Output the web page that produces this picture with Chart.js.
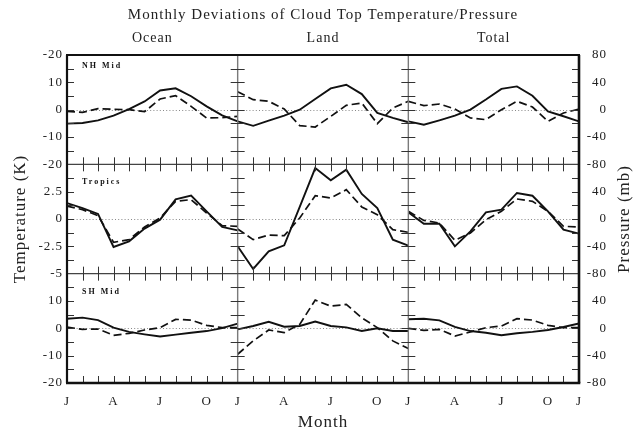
<!DOCTYPE html>
<html>
<head>
<meta charset="utf-8">
<script src="https://cdn.jsdelivr.net/npm/chart.js@4.4.1/dist/chart.umd.min.js"></script>
<style>
  html, body { margin: 0; padding: 0; background: #fff; }
  canvas { display: block; }
</style>
</head>
<body>
<canvas id="c" width="639" height="431"></canvas>
<script>
// Month positions along each panel and the labelled ones
const months = [0, 1, 2, 3, 4, 5, 6, 7, 8, 9, 10, 11];
const monthTickValues = [0, 3, 6, 9, 11];
const monthTickLabels = ['J', 'A', 'J', 'O', 'J'];

const columns = ['Ocean', 'Land', 'Total'];
const regions = ['NH Mid', 'Tropics', 'SH Mid'];

// Cloud top temperature deviations (K) - solid lines
const nhOceanTemp = [-5.1, -4.9, -3.9, -2.2, 0.2, 3.0, 7.0, 7.8, 4.9, 1.2, -2.1, -4.3];
const nhLandTemp  = [-4.3, -5.9, -4.0, -2.2, 0.0, 3.9, 7.8, 9.1, 5.7, -1.2, -3.0, -4.6];
const nhTotalTemp = [-4.3, -5.5, -3.9, -2.2, 0.0, 3.7, 7.6, 8.5, 5.1, -0.6, -2.4, -4.3];
const trOceanTemp = [1.46, 1.0, 0.46, -2.56, -2.04, -0.88, -0.06, 1.8, 2.15, 0.7, -0.73, -1.04];
const trLandTemp  = [-2.5, -4.57, -2.96, -2.41, 1.1, 4.66, 3.54, 4.51, 2.29, 1.0, -1.89, -2.44];
const trTotalTemp = [0.61, -0.43, -0.43, -2.5, -1.13, 0.61, 0.85, 2.38, 2.13, 0.7, -0.98, -1.34];
const shOceanTemp = [3.5, 3.9, 3.0, 0.24, -1.3, -2.2, -3.0, -2.3, -1.6, -1.0, 0.1, 1.7];
const shLandTemp  = [-0.36, 0.85, 2.4, 0.6, 0.85, 2.5, 0.85, 0.36, -0.97, 0.0, -0.97, -0.97];
const shTotalTemp = [3.3, 3.5, 2.9, 0.5, -1.0, -1.6, -2.5, -1.8, -1.3, -0.6, 0.5, 1.8];

// Cloud top pressure deviations (mb) - dashed lines
const nhOceanPres = [-2.4, -3.9, 1.5, 0.5, 0.0, -2.9, 15.6, 20.5, 4.9, -12.2, -11.7, -9.8];
const nhLandPres  = [26.3, 14.6, 12.2, 1.0, -23.4, -25.4, -9.8, 6.3, 9.8, -20.5, 2.4, 12.2];
const nhTotalPres = [12.2, 5.9, 8.3, 1.0, -12.2, -14.6, 0.0, 12.2, 3.9, -17.1, -4.9, 1.0];
const trOceanPres = [19.0, 13.7, 4.9, -34.0, -30.2, -11.7, 1.5, 25.9, 28.3, 8.8, -9.8, -10.7];
const trLandPres  = [-14.6, -30.2, -23.4, -24.4, 1.5, 34.1, 30.7, 42.9, 17.6, 6.3, -15.6, -19.5];
const trTotalPres = [11.2, -2.0, -5.9, -31.2, -20.5, -1.0, 11.2, 29.3, 25.9, 11.2, -10.7, -11.7];
const shOceanPres = [1.9, -1.5, -1.0, -10.2, -7.3, -2.4, 1.0, 13.1, 12.1, 4.4, 1.0, 1.0];
const shLandPres  = [-37.9, -18.4, -2.4, -6.3, 5.8, 41.3, 32.5, 35.0, 15.5, 1.0, -18.4, -29.6];
const shTotalPres = [0.0, -2.9, -1.5, -11.2, -5.3, 1.0, 3.4, 14.1, 12.1, 4.4, 1.0, 1.0];

// Axis tick values and their printed labels, top to bottom
const nhTempTicks = [20, 10, 0, -10, -20];
const nhTempLabels = ['-20', '10', '0', '-10', '-20'];
const trTempTicks = [2.5, 0, -2.5, -5];
const trTempLabels = ['2.5', '0', '-2.5', '-5'];
const shTempTicks = [10, 0, -10, -20];
const shTempLabels = ['10', '0', '-10', '-20'];
const nhPresTicks = [80, 40, 0, -40, -80];
const nhPresLabels = ['80', '40', '0', '-40', '-80'];
const lowPresTicks = [40, 0, -40, -80];
const lowPresLabels = ['40', '0', '-40', '-80'];

const tempSeries = [
  [nhOceanTemp, nhLandTemp, nhTotalTemp],
  [trOceanTemp, trLandTemp, trTotalTemp],
  [shOceanTemp, shLandTemp, shTotalTemp]
];
const presSeries = [
  [nhOceanPres, nhLandPres, nhTotalPres],
  [trOceanPres, trLandPres, trTotalPres],
  [shOceanPres, shLandPres, shTotalPres]
];

const FONT = 'Liberation Serif';
const INK = '#111';

const datasets = [];
for (let r = 0; r < 3; r++) {
  for (let c = 0; c < 3; c++) {
    datasets.push({
      label: regions[r] + ' ' + columns[c] + ' temperature',
      data: months.map((m, i) => ({ x: m, y: tempSeries[r][c][i] })),
      xAxisID: 'x' + c, yAxisID: 't' + r,
      borderColor: INK, borderWidth: 1.9, pointRadius: 0, tension: 0, fill: false
    });
    datasets.push({
      label: regions[r] + ' ' + columns[c] + ' pressure',
      data: months.map((m, i) => ({ x: m, y: presSeries[r][c][i] })),
      xAxisID: 'x' + c, yAxisID: 'p' + r,
      borderColor: INK, borderWidth: 1.7, borderDash: [8, 4], pointRadius: 0, tension: 0, fill: false
    });
  }
}

const tickFont = { family: FONT, size: 13 };
const noGrid = { display: false, drawTicks: false };

function monthAxis(c) {
  return {
    type: 'linear', position: 'bottom', stack: 'cols', stackWeight: 1, weight: c + 1,
    min: 0, max: 11,
    grid: noGrid, border: { display: false },
    afterBuildTicks: s => { s.ticks = monthTickValues.map(v => ({ value: v })); },
    afterFit: s => { s.height = 48; },
    ticks: {
      autoSkip: false, maxRotation: 0, padding: 11, color: '#222', font: tickFont,
      callback: (v, i) => (c > 0 && v === 0) ? '' : monthTickLabels[i]
    },
    title: c === 1 ? {
      display: true, text: 'Month', color: '#222',
      font: { family: FONT, size: 17 }, padding: { top: 0, bottom: -2 }
    } : { display: false }
  };
}

function tempAxis(r, min, max, values, labels) {
  return {
    type: 'linear', position: 'left', stack: 'left', stackWeight: 1, weight: 3 - r,
    min: min, max: max,
    grid: noGrid, border: { display: false },
    afterBuildTicks: s => { s.ticks = values.map(v => ({ value: v })); },
    afterFit: s => { s.width = 67; },
    ticks: {
      autoSkip: false, padding: 4, color: '#222', font: tickFont,
      callback: (v, i) => labels[i]
    },
    title: r === 1 ? {
      display: true, text: 'Temperature (K)', color: '#222',
      font: { family: FONT, size: 17 }, padding: { top: 10, bottom: 0 }
    } : { display: false }
  };
}

function presAxis(r, values, labels) {
  return {
    type: 'linear', position: 'right', stack: 'right', stackWeight: 1, weight: r + 1,
    min: -80, max: 80,
    grid: noGrid, border: { display: false },
    afterBuildTicks: s => { s.ticks = values.map(v => ({ value: v })); },
    afterFit: s => { s.width = 28; },
    ticks: {
      autoSkip: false, crossAlign: 'far', color: '#222', font: tickFont,
      callback: (v, i) => labels[i]
    }
  };
}

// Frame, separators, inward tick marks, zero lines and panel captions
const panelDecor = {
  id: 'panelDecor',
  beforeDraw(chart) {
    chart.ctx.letterSpacing = '1px';
  },
  beforeDatasetsDraw(chart) {
    const { ctx, chartArea: a } = chart;
    ctx.save();
    ctx.strokeStyle = '#888';
    ctx.lineWidth = 1;
    ctx.setLineDash([1, 2.2]);
    for (let r = 0; r < 3; r++) {
      const y = Math.round(chart.scales['t' + r].getPixelForValue(0)) + 0.5;
      ctx.beginPath(); ctx.moveTo(a.left, y); ctx.lineTo(a.right, y); ctx.stroke();
    }
    ctx.restore();
  },
  afterDatasetsDraw(chart) {
    const { ctx, chartArea: a } = chart;
    const L = 7;
    ctx.save();
    ctx.setLineDash([]);
    const line = (x1, y1, x2, y2) => { ctx.beginPath(); ctx.moveTo(x1, y1); ctx.lineTo(x2, y2); ctx.stroke(); };

    // column and row separators
    const colX = [chart.scales.x1.left, chart.scales.x2.left];
    const rowY = [chart.scales.t1.top, chart.scales.t2.top];
    ctx.strokeStyle = '#7a7a7a'; ctx.lineWidth = 1.4;
    colX.forEach(x => line(x, a.top, x, a.bottom));
    ctx.strokeStyle = '#444'; ctx.lineWidth = 1.3;
    rowY.forEach(y => line(a.left, y, a.right, y));

    // tick marks along y
    ctx.strokeStyle = '#333'; ctx.lineWidth = 1;
    const steps = [5, 1.25, 5];
    for (let r = 0; r < 3; r++) {
      const s = chart.scales['t' + r];
      for (let v = s.min + steps[r]; v < s.max - 1e-9; v += steps[r]) {
        const y = Math.round(s.getPixelForValue(v)) + 0.5;
        line(a.left, y, a.left + L, y);
        line(a.right - L, y, a.right, y);
        colX.forEach(x => line(x - L, y, x + L, y));
      }
    }
    // tick marks along x
    for (let c = 0; c < 3; c++) {
      const s = chart.scales['x' + c];
      for (let m = 1; m < 11; m++) {
        const x = Math.round(s.getPixelForValue(m)) + 0.5;
        line(x, a.bottom - L, x, a.bottom);
        rowY.forEach(y => line(x, y - L, x, y + L));
      }
    }

    // outer frame
    ctx.strokeStyle = INK;
    ctx.lineWidth = 2; line(a.left - 1, a.top, a.right + 1, a.top);
    ctx.lineWidth = 2.6; line(a.left - 1, a.bottom, a.right + 1.3, a.bottom);
    ctx.lineWidth = 2.2; line(a.left, a.top, a.left, a.bottom);
    ctx.lineWidth = 2.6; line(a.right, a.top, a.right, a.bottom);

    // panel captions
    const capOffsets = [10.5, 17.5, 18.5];
    ctx.fillStyle = INK;
    ctx.font = 'bold 8px "' + FONT + '"';
    ctx.letterSpacing = '2px';
    ctx.textBaseline = 'middle';
    ctx.textAlign = 'left';
    for (let r = 0; r < 3; r++) {
      ctx.fillText(regions[r], a.left + 15, chart.scales['t' + r].top + capOffsets[r]);
    }

    // right-hand axis title, reading upward like the left one
    const pt = chart.scales.p1;
    ctx.letterSpacing = '1px';
    ctx.font = '17px "' + FONT + '"';
    ctx.fillStyle = '#222';
    ctx.textAlign = 'center';
    ctx.translate(625, (pt.top + pt.bottom) / 2);
    ctx.rotate(-Math.PI / 2);
    ctx.fillText('Pressure (mb)', 0, 0);
    ctx.restore();
  }
};

new Chart(document.getElementById('c'), {
  type: 'line',
  data: { datasets },
  options: {
    responsive: false,
    animation: false,
    devicePixelRatio: 1,
    layout: { padding: { left: 0, right: 32, top: 0, bottom: 0 } },
    plugins: {
      legend: { display: false },
      tooltip: { enabled: false },
      title: {
        display: true, fullSize: false,
        text: 'Monthly Deviations of Cloud Top Temperature/Pressure',
        color: '#222', font: { family: FONT, size: 15, weight: 'normal' },
        padding: { top: 6, bottom: 0 }
      }
    },
    scales: {
      x0: monthAxis(0), x1: monthAxis(1), x2: monthAxis(2),
      top: {
        type: 'linear', position: 'top', min: 0, max: 33,
        grid: noGrid, border: { display: false },
        afterBuildTicks: s => { s.ticks = columns.map((n, i) => ({ value: 5.5 + 11 * i })); },
        afterFit: s => { s.height = 31; },
        ticks: {
          autoSkip: false, maxRotation: 0, padding: 8, color: '#222',
          font: { family: FONT, size: 14 },
          callback: (v, i) => columns[i]
        }
      },
      t0: tempAxis(0, -20, 20, nhTempTicks, nhTempLabels),
      t1: tempAxis(1, -5, 5, trTempTicks, trTempLabels),
      t2: tempAxis(2, -20, 20, shTempTicks, shTempLabels),
      p0: presAxis(0, nhPresTicks, nhPresLabels),
      p1: presAxis(1, lowPresTicks, lowPresLabels),
      p2: presAxis(2, lowPresTicks, lowPresLabels)
    }
  },
  plugins: [panelDecor]
});
</script>
</body>
</html>
